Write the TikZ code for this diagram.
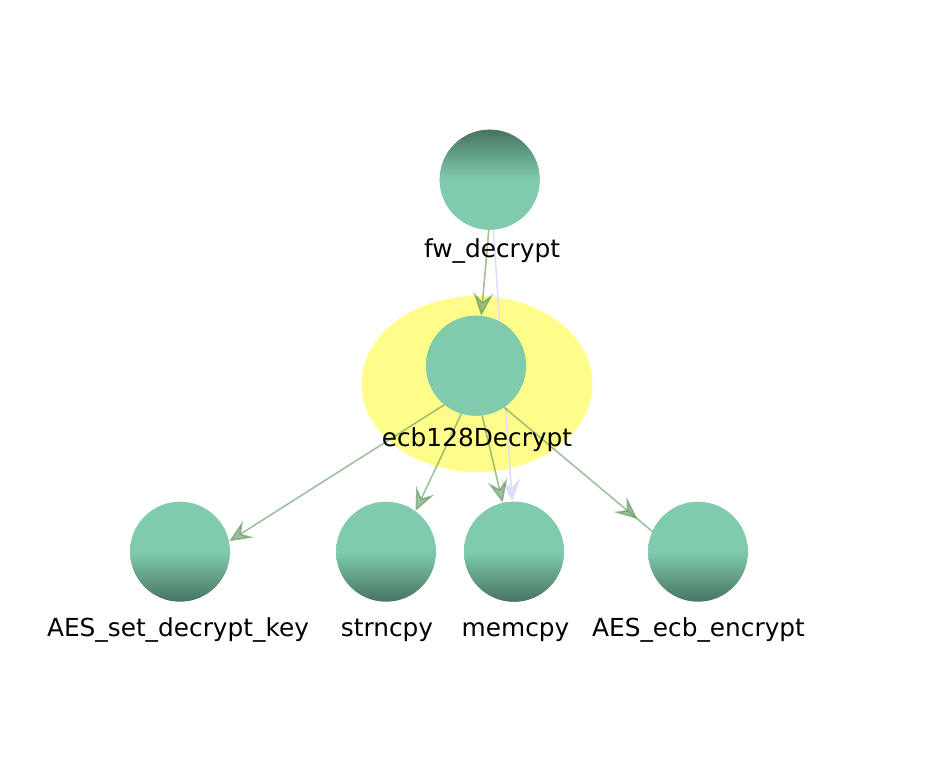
\documentclass[tikz,border=0pt]{standalone}
\usepackage{fontspec}
\setmainfont{DejaVu Sans}
\usetikzlibrary{arrows.meta,shapes.geometric,decorations.markings}
\definecolor{nodelight}{RGB}{128,203,172}
\definecolor{nodedark}{RGB}{70,116,96}
\definecolor{halocol}{RGB}{255,252,138}
\definecolor{edgegreen}{RGB}{95,150,95}
\definecolor{lavcol}{RGB}{222,222,250}
\begin{document}
\begin{tikzpicture}[x=1pt,y=-1pt,
  fn/.style={circle, minimum size=100pt, inner sep=0pt},
  fntop/.style={fn, top color=nodedark, bottom color=nodelight, middle color=nodelight},
  fnbot/.style={fn, top color=nodelight, bottom color=nodedark, middle color=nodelight},
  fnflat/.style={fn, fill=nodelight},
  lbl/.style={anchor=base, font=\fontsize{24.8}{29}\selectfont, inner sep=0pt},
  tipshape/.style={-{Stealth[length=23pt,width=20pt,inset=9pt]}},
  call/.style={draw=edgegreen, opacity=0.6, line width=1.6pt},
  callarrow/.style={call, tipshape},
  extcall/.style={draw=lavcol, line width=1.6pt, tipshape},
]
\useasboundingbox (0,0) rectangle (952,766);

% highlight halo
\node[ellipse, fill=halocol, minimum width=231pt, minimum height=176pt, inner sep=0pt] (halo) at (477,384) {};

% nodes (shapes) placed first for anchors
\node[fntop] (fw) at (489.7,179.7) {};
\node[fnflat] (ecb) at (476,365.7) {};
\node[fnbot] (aesset) at (180,551.7) {};
\node[fnbot] (strn) at (386,551.7) {};
\node[fnbot] (memc) at (514,551.7) {};
\node[fnbot] (aesecb) at (698,551.7) {};

% lavender edge fw_decrypt -> memcpy (passes behind ecb circle)
\draw[extcall] (fw.274) -- (memc.92.6);

% green call edges
\draw[callarrow] (fw.269) -- (ecb.84.4);
\draw[callarrow] (ecb.231.5) -- (aesset.12.9);
\draw[callarrow] (ecb.253.5) -- (strn.54.3);
\draw[callarrow] (ecb.277.6) -- (memc.103.3);
\draw[call, postaction={decorate},
      decoration={markings, mark=at position -19pt with {\arrow{Stealth[length=23pt,width=20pt,inset=9pt]}}}]
      (ecb.304) -- (aesecb.156.4);

% redraw circles on top of edges
\node[fntop] (fwtop) at (fw) {};
\node[fnflat] (ecbtop) at (ecb) {};
\node[fnbot] (memctop) at (memc) {};

% labels
\node[lbl] (lfw) at (492,257) {fw\_decrypt};
\node[lbl] (lecb) at (477,446) {ecb128Decrypt};
\node[lbl] (laesset) at (178,636) {AES\_set\_decrypt\_key};
\node[lbl] (lstrn) at (387,636) {strncpy};
\node[lbl] (lmemc) at (515.5,636) {memcpy};
\node[lbl] (laesecb) at (698.5,636) {AES\_ecb\_encrypt};
\end{tikzpicture}
\end{document}
